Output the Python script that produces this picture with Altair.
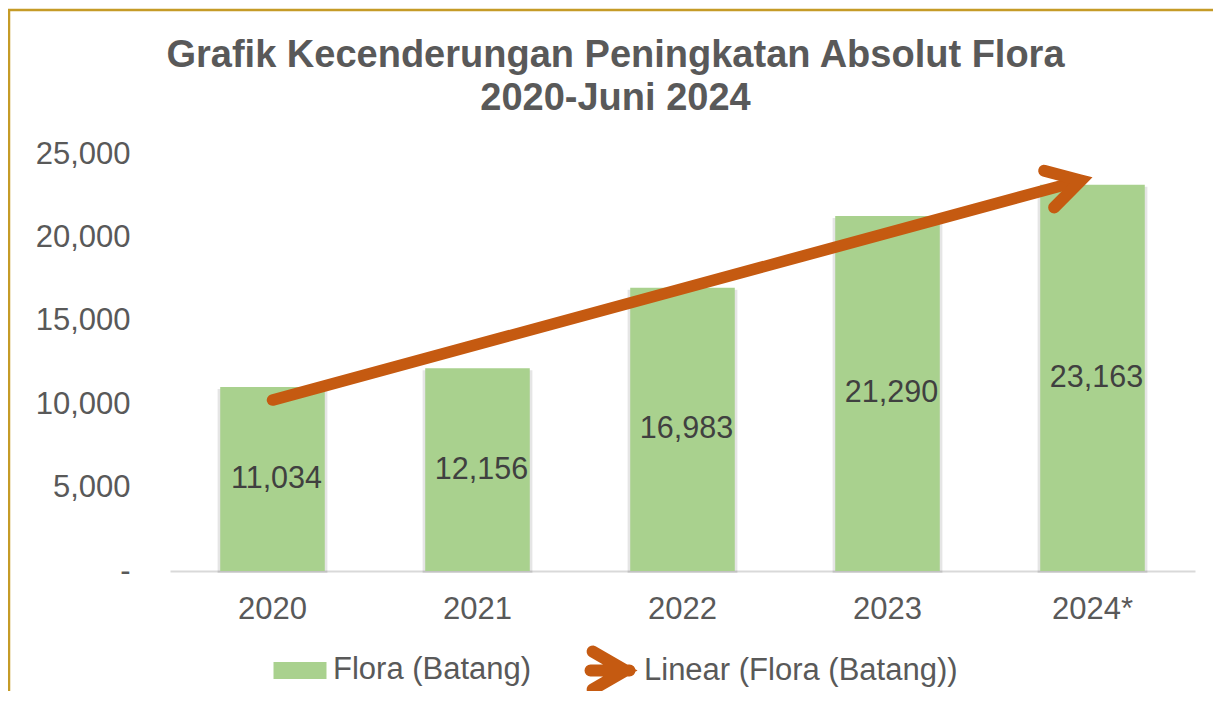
import math
import altair as alt
import pandas as pd

# ---------------- data ----------------
years = ["2020", "2021", "2022", "2023", "2024*"]
values = [11034, 12156, 16983, 21290, 23163]
idx = [0, 1, 2, 3, 4]
legend_labels = ["Flora (Batang)", "Linear (Flora (Batang))"]
title_lines = ["Grafik Kecenderungan Peningkatan Absolut Flora", "2020-Juni 2024"]
y_ticks = [0, 5000, 10000, 15000, 20000, 25000]

df = pd.DataFrame({"year": years, "idx": idx, "value": values})

# ---------------- style ----------------
GREEN = "#A9D18E"
ORANGE = "#C55A11"
TEXT = "#595959"
LABEL = "#404040"
GOLD = "#C59B27"
FONT = "Liberation Sans"
W, H = 1025, 417


# ---------------- marker shapes (SVG paths) ----------------
def capsule(p1, p2, r, n_seg=8):
    dx, dy = p2[0] - p1[0], p2[1] - p1[1]
    ln = math.hypot(dx, dy)
    d = (dx / ln, dy / ln)
    n = (-d[1], d[0])
    pts = []
    for k in range(n_seg + 1):
        phi = -math.pi / 2 + math.pi * k / n_seg
        pts.append((p2[0] + r * (math.cos(phi) * d[0] + math.sin(phi) * n[0]),
                    p2[1] + r * (math.cos(phi) * d[1] + math.sin(phi) * n[1])))
    for k in range(n_seg + 1):
        phi = -math.pi / 2 + math.pi * k / n_seg
        pts.append((p1[0] + r * (-math.cos(phi) * d[0] - math.sin(phi) * n[0]),
                    p1[1] + r * (-math.cos(phi) * d[1] - math.sin(phi) * n[1])))
    return pts


def poly_path(polys, shift=0.0, scale=1.0):
    out = []
    for pts in polys:
        s = "M " + " L ".join(f"{(x + shift) / scale:.4f} {y / scale:.4f}" for x, y in pts) + " Z"
        out.append(s)
    return " ".join(out)


th = math.radians(30)
r = 6.0
V = (-r / math.sin(th), 0.0)
L = 38.0
U = (V[0] - L * math.cos(th), -L * math.sin(th))
D = (V[0] - L * math.cos(th), L * math.sin(th))
A = (V[0] + r * math.sin(th), -r * math.cos(th))
B = (V[0] + r * math.sin(th), r * math.cos(th))
chevron = [capsule(U, V, r), capsule(V, D, r), [V, A, (0.0, 0.0), B]]
arrow_head_path = poly_path(chevron)  # pixel units, used with size=4

legend_arrow = chevron + [capsule((-47.0, 0.0), (V[0] + 4, 0.0), r)]
legend_arrow_path = poly_path(legend_arrow, shift=26.5, scale=30.0)
# green swatch; two zero-area sub-paths give it the same height of bounds as the arrow
legend_rect_path = ("M -0.883 -0.283 L 0.883 -0.283 L 0.883 0.283 L -0.883 0.283 Z "
                    "M 0 -0.84 L 0 -0.84 Z M 0 0.84 L 0 0.84 Z")

# ---------------- scales / axes ----------------
band = alt.Scale(type="band", domain=years, paddingInner=0.49, paddingOuter=0.245)
yscale = alt.Scale(domain=[0, 25000], nice=False)
qx = alt.Scale(domain=[-0.5, 4.5], nice=False, zero=False)
yaxis = alt.Axis(values=y_ticks, ticks=False, domain=False, grid=False, labelFontSize=31,
                 labelColor=TEXT, labelFont=FONT, labelPadding=40,
                 labelExpr="datum.value == 0 ? '-' : format(datum.value, ',')")

base = alt.Chart(df)

shadow = base.mark_bar(color="#000000", opacity=0.10, width=alt.RelativeBandSize(1.05), yOffset=2).encode(
    x=alt.X("year:N", scale=band, axis=None),
    y=alt.Y("value:Q", scale=yscale, axis=yaxis, title=None),
)

bars = base.mark_bar(color=GREEN).encode(
    x=alt.X("year:N", scale=band, title=None,
            axis=alt.Axis(labelAngle=0, ticks=False, domain=True, domainColor="#D9D9D9", domainWidth=2,
                          labelFontSize=31, labelColor=TEXT, labelFont=FONT, labelPadding=23, grid=False)),
    y=alt.Y("value:Q", scale=yscale, axis=yaxis, title=None),
)

labels = base.transform_calculate(mid="datum.value / 2").mark_text(
    fontSize=30.5, font=FONT, color=LABEL, baseline="middle", align="center", dx=4
).encode(
    x=alt.X("year:N", scale=band, axis=None),
    y=alt.Y("mid:Q", scale=yscale, axis=yaxis, title=None),
    text=alt.Text("value:Q", format=",d"),
)

trend = base.transform_regression("idx", "value", extent=[0, 3.93]).mark_line(
    color=ORANGE, strokeWidth=11.5, strokeCap="round"
).encode(
    x=alt.X("idx:Q", scale=qx, axis=None),
    y=alt.Y("value:Q", scale=yscale, axis=yaxis, title=None),
)

arrow = base.transform_regression("idx", "value", extent=[0, 4]).transform_filter(
    "datum.idx >= 4"
).mark_point(shape=arrow_head_path, size=4, filled=True, color=ORANGE, opacity=1, angle=344.8, strokeWidth=0).encode(
    x=alt.X("idx:Q", scale=qx, axis=None),
    y=alt.Y("value:Q", scale=yscale, axis=yaxis, title=None),
)

leg = dict(orient="none", legendX=100, legendY=486, direction="horizontal", title=None,
           labelFont=FONT, labelFontSize=31, labelColor=TEXT, labelLimit=0, symbolSize=3600, symbolOpacity=1,
           symbolStrokeWidth=0, labelOffset=3, columnPadding=49, padding=0)
legend_layer = alt.Chart(pd.DataFrame({"series": legend_labels})).mark_point(filled=True, opacity=0).encode(
    color=alt.Color("series:N", scale=alt.Scale(domain=legend_labels, range=[GREEN, ORANGE]),
                    legend=alt.Legend(**leg)),
    shape=alt.Shape("series:N", scale=alt.Scale(domain=legend_labels, range=[legend_rect_path, legend_arrow_path]),
                    legend=alt.Legend(**leg)),
)

frame = alt.Chart(alt.Data(values=[{"k": 0}])).mark_rect(fill="transparent", stroke=GOLD, strokeWidth=2.5).encode(
    x=alt.value(-161), x2=alt.value(1300), y=alt.value(-144), y2=alt.value(800)
)

chart = alt.layer(frame, shadow, bars, labels, trend, arrow, legend_layer).resolve_scale(
    x="independent"
).properties(
    width=W, height=H,
    background="white",
    autosize=alt.AutoSizeParams(type="none"),
    padding={"left": 162, "top": 146, "right": 18, "bottom": 120},
    title=alt.Title(title_lines, fontSize=38, fontWeight="bold", font=FONT, color=TEXT,
                    anchor="middle", frame="group", dx=-67, offset=-109, lineHeight=43),
).configure_view(stroke="transparent", strokeWidth=0)

chart.save("out.html", embed_options={"renderer": "svg", "actions": False})
